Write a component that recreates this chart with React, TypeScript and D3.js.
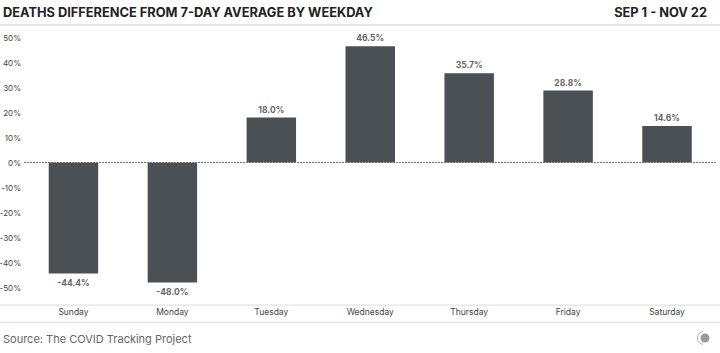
import React, { useEffect, useRef } from "react";
import * as d3 from "d3";

const days = ["Sunday", "Monday", "Tuesday", "Wednesday", "Thursday", "Friday", "Saturday"];
const values = [-44.4, -48.0, 18.0, 46.5, 35.7, 28.8, 14.6];
const yTicks = [50, 40, 30, 20, 10, 0, -10, -20, -30, -40, -50];

const W = 720;
const H = 353;

const App = () => {
  const svgRef = useRef<SVGSVGElement>(null);

  useEffect(() => {
    const svg = d3.select(svgRef.current);
    const font = "Inter, 'Noto Sans', sans-serif";

    const x = d3.scaleBand().domain(days).range([24, 716.5]).paddingInner(0.5).paddingOuter(0.25);
    const y = d3.scaleLinear().domain([-50, 50]).range([287.5, 37.5]);

    // header
    svg.append("text")
      .attr("x", 3).attr("y", 17)
      .attr("font-family", font).attr("font-weight", 700).attr("font-size", 12.8)
      .attr("fill", "#222")
      .text("DEATHS DIFFERENCE FROM 7-DAY AVERAGE BY WEEKDAY");
    svg.append("text")
      .attr("x", 707).attr("y", 17).attr("text-anchor", "end")
      .attr("font-family", font).attr("font-weight", 700).attr("font-size", 12.8)
      .attr("fill", "#222")
      .text("SEP 1 - NOV 22");
    svg.append("rect").attr("x", 0).attr("y", 24).attr("width", W).attr("height", 2).attr("fill", "#e6e6e6");

    // y axis labels
    svg.append("g").selectAll("text")
      .data(yTicks)
      .enter()
      .append("text")
      .attr("x", 21).attr("y", (d) => y(d) + 3)
      .attr("text-anchor", "end")
      .attr("font-family", font).attr("font-size", 8).attr("fill", "#444")
      .text((d) => d + "%");

    // bars
    svg.append("g").selectAll("rect")
      .data(values)
      .enter()
      .append("rect")
      .attr("x", (d, i) => x(days[i])!)
      .attr("y", (d) => y(Math.max(0, d)))
      .attr("width", x.bandwidth())
      .attr("height", (d) => Math.abs(y(d) - y(0)))
      .attr("fill", "#4b5054");

    // zero line
    svg.append("line")
      .attr("x1", 24).attr("x2", 717).attr("y1", y(0)).attr("y2", y(0))
      .attr("stroke", "#777").attr("stroke-width", 1).attr("stroke-dasharray", "2,1");

    // value labels
    svg.append("g").selectAll("text")
      .data(values)
      .enter()
      .append("text")
      .attr("x", (d, i) => x(days[i])! + x.bandwidth() / 2)
      .attr("y", (d) => (d >= 0 ? y(d) - 5 : y(d) + 12))
      .attr("text-anchor", "middle")
      .attr("font-family", font).attr("font-weight", 700).attr("font-size", 8.5)
      .attr("fill", "#666")
      .text((d) => d.toFixed(1) + "%");

    // x axis
    svg.append("rect").attr("x", 0).attr("y", 304.5).attr("width", W).attr("height", 1.2).attr("fill", "#e2e2e2");
    svg.append("g").selectAll("text")
      .data(days)
      .enter()
      .append("text")
      .attr("x", (d) => x(d)! + x.bandwidth() / 2)
      .attr("y", 315)
      .attr("text-anchor", "middle")
      .attr("font-family", font).attr("font-size", 8.5).attr("fill", "#444")
      .text((d) => d);
    svg.append("rect").attr("x", 0).attr("y", 321.5).attr("width", W).attr("height", 1.2).attr("fill", "#e2e2e2");

    // footer
    svg.append("text")
      .attr("x", 3).attr("y", 343)
      .attr("font-family", font).attr("font-size", 11).attr("fill", "#666")
      .text("Source: The COVID Tracking Project");

    const logo = svg.append("g").attr("transform", "translate(704,338)");
    logo.append("circle").attr("r", 4.5).attr("cx", 1).attr("fill", "#9a9a9a");
    logo.append("path")
      .attr("d", d3.arc()({ innerRadius: 6, outerRadius: 7, startAngle: Math.PI * 1.05, endAngle: Math.PI * 1.95 }) as string)
      .attr("fill", "#b5b5b5");

    return () => {
      svg.selectAll("*").remove();
    };
  }, []);

  return (
    <svg
      ref={svgRef}
      width={W}
      height={H}
      style={{ position: "absolute", top: 0, left: 0, background: "#fff" }}
    />
  );
};

export default App;
